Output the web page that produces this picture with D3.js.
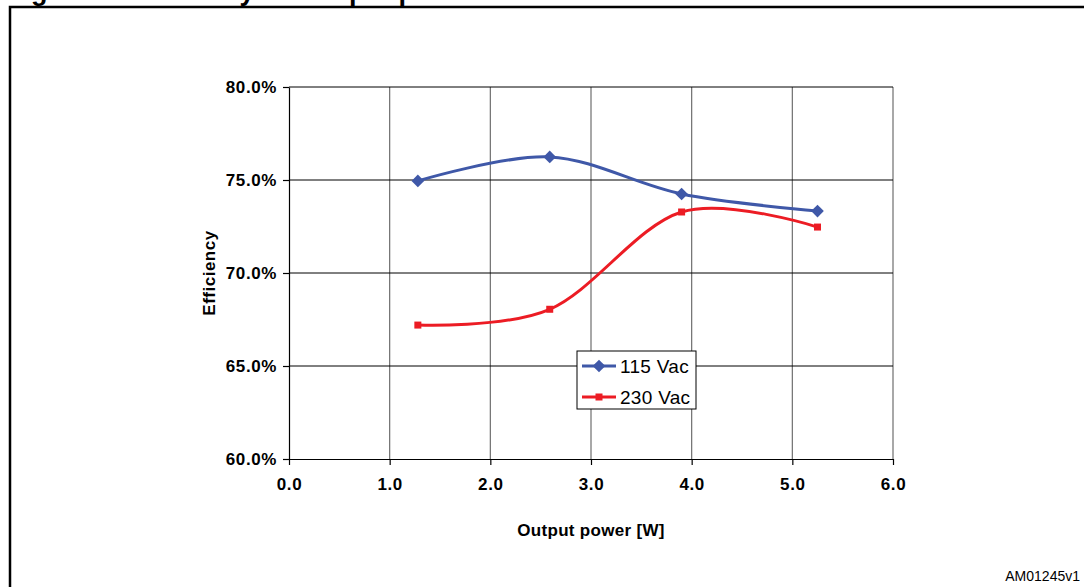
<!DOCTYPE html>
<html>
<head>
<meta charset="utf-8">
<script src="https://cdn.jsdelivr.net/npm/d3@7"></script>
<style>
  html, body { margin: 0; padding: 0; background: #fff; }
  svg { display: block; font-family: Arial, "Liberation Sans", sans-serif; }
</style>
</head>
<body>
<svg id="chart" width="1084" height="587"></svg>
<script>
const outputPower = [1.28, 2.59, 3.9, 5.25];
const eff115 = [74.95, 76.24, 74.25, 73.33];
const eff230 = [67.2, 68.05, 73.28, 72.47];
const seriesNames = ["115 Vac", "230 Vac"];
const xTicks = [0, 1, 2, 3, 4, 5, 6];
const yTicks = [60, 65, 70, 75, 80];
const titleText = "Figure 6. Efficiency vs. output power";
const xTitle = "Output power [W]";
const yTitle = "Efficiency";
const codeText = "AM01245v1";

const svg = d3.select("#chart");

// title (cut off by top of page)
svg.append("text").attr("x", 7).attr("y", -0.5)
  .attr("font-size", 27).attr("font-weight", "bold").text(titleText);

// frame
svg.append("rect").attr("x", 10).attr("y", 7).attr("width", 1100).attr("height", 620)
  .attr("fill", "none").attr("stroke", "#000").attr("stroke-width", 2.5);

const L = 289, R = 893, T = 87, B = 459;
const x = d3.scaleLinear().domain([0, 6]).range([L, R]);
const y = d3.scaleLinear().domain([60, 80]).range([B, T]);

// vertical gridlines
svg.append("g").selectAll("line").data(xTicks.filter(d => d > 0)).join("line")
  .attr("x1", d => x(d)).attr("x2", d => x(d)).attr("y1", T).attr("y2", B)
  .attr("stroke", "#6e6e6e").attr("stroke-width", 1.2);
// horizontal gridlines
svg.append("g").selectAll("line").data(yTicks.filter(d => d > 60)).join("line")
  .attr("x1", L).attr("x2", R).attr("y1", d => y(d)).attr("y2", d => y(d))
  .attr("stroke", "#000").attr("stroke-width", 1);

// axes
const xAxis = d3.axisBottom(x).tickValues(xTicks).tickFormat(d3.format(".1f")).tickSizeInner(6).tickSizeOuter(0).tickPadding(11);
const yAxis = d3.axisLeft(y).tickValues(yTicks).tickFormat(d => d3.format(".1f")(d) + "%").tickSizeInner(6).tickSizeOuter(0).tickPadding(6);

const gx = svg.append("g").attr("transform", `translate(0,${B})`).call(xAxis);
const gy = svg.append("g").attr("transform", `translate(${L},0)`).call(yAxis);
[gx, gy].forEach(g => {
  g.select(".domain").attr("stroke", "#000").attr("stroke-width", 1.2);
  g.selectAll(".tick line").attr("stroke", "#000").attr("stroke-width", 1.2);
  g.selectAll(".tick text").attr("font-size", 17).attr("font-weight", "bold")
    .attr("letter-spacing", 0.6)
    .attr("font-family", "Arial, 'Liberation Sans', sans-serif").attr("fill", "#000");
});
gx.selectAll(".tick text").attr("dy", "0.8em");

// axis titles
svg.append("text").attr("x", (L + R) / 2).attr("y", 530).attr("text-anchor", "middle")
  .attr("dominant-baseline", "central").attr("font-size", 17).attr("font-weight", "bold")
  .attr("letter-spacing", 0.3).text(xTitle);
svg.append("text").attr("transform", `translate(215,${(T + B) / 2}) rotate(-90)`)
  .attr("text-anchor", "middle").attr("font-size", 17).attr("font-weight", "bold")
  .attr("letter-spacing", 0.5).text(yTitle);

// series
const line = d3.line().x(d => x(d[0])).y(d => y(d[1])).curve(d3.curveCardinal.tension(0));
const colors = ["#3f58a8", "#ec1c24"];
const data115 = outputPower.map((p, i) => [p, eff115[i]]);
const data230 = outputPower.map((p, i) => [p, eff230[i]]);

svg.append("path").datum(data115).attr("d", line).attr("fill", "none")
  .attr("stroke", colors[0]).attr("stroke-width", 3);
svg.append("path").datum(data230).attr("d", line).attr("fill", "none")
  .attr("stroke", colors[1]).attr("stroke-width", 3);

const diamond = d3.symbol().type(d3.symbolSquare).size(80);
svg.append("g").selectAll("path").data(data115).join("path")
  .attr("d", diamond)
  .attr("transform", d => `translate(${x(d[0])},${y(d[1])}) rotate(45)`)
  .attr("fill", colors[0]);
svg.append("g").selectAll("rect").data(data230).join("rect")
  .attr("x", d => x(d[0]) - 3.5).attr("y", d => y(d[1]) - 3.5)
  .attr("width", 7).attr("height", 7).attr("fill", colors[1]);

// legend
const lg = svg.append("g");
lg.append("rect").attr("x", 577).attr("y", 351).attr("width", 119).attr("height", 58)
  .attr("fill", "#fff").attr("stroke", "#000").attr("stroke-width", 1);
const ly = [366, 397];
seriesNames.forEach((name, i) => {
  lg.append("line").attr("x1", 582).attr("x2", 616).attr("y1", ly[i]).attr("y2", ly[i])
    .attr("stroke", colors[i]).attr("stroke-width", 3);
  if (i === 0) {
    lg.append("path").attr("d", diamond).attr("transform", `translate(599,${ly[i]}) rotate(45)`).attr("fill", colors[0]);
  } else {
    lg.append("rect").attr("x", 595.5).attr("y", ly[i] - 3.5).attr("width", 7).attr("height", 7).attr("fill", colors[1]);
  }
  lg.append("text").attr("x", 620).attr("y", ly[i]).attr("dominant-baseline", "central")
    .attr("font-size", 19).attr("letter-spacing", 0.3).attr("fill", "#000").text(name);
});

// code
svg.append("text").attr("x", 1080).attr("y", 581).attr("text-anchor", "end")
  .attr("font-size", 14).attr("fill", "#000").text(codeText);
</script>
</body>
</html>
